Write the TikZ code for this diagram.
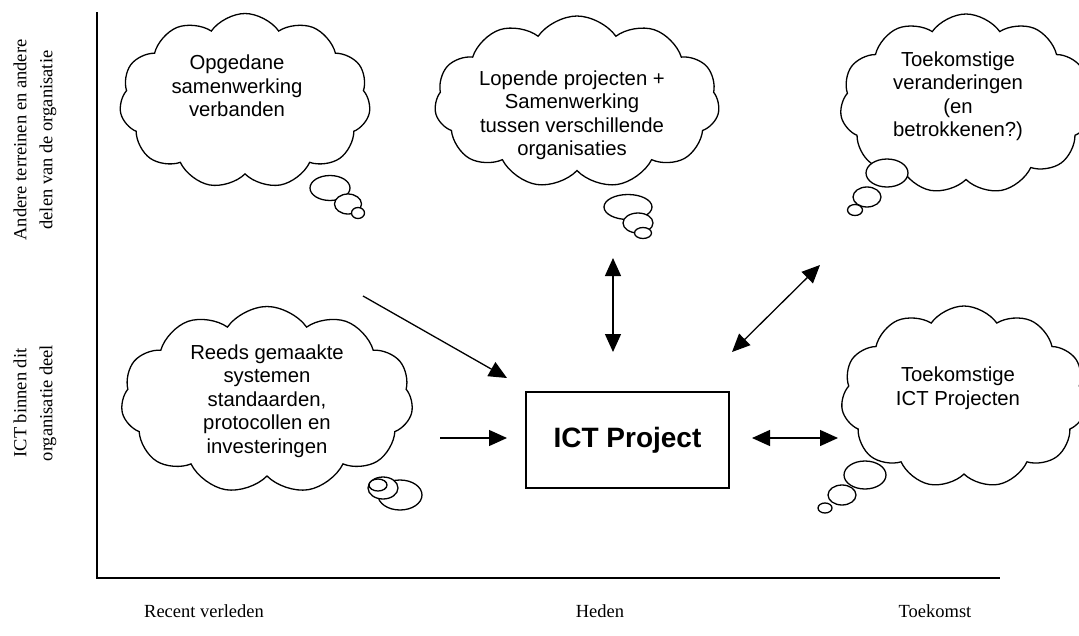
\documentclass[tikz,border=0pt]{standalone}
\usepackage{fontspec}
\setmainfont{Liberation Serif}
\setsansfont{Liberation Sans}
\usetikzlibrary{shapes.symbols,arrows.meta}
\tikzset{
  wolk/.style={cloud, draw, line width=1.3pt, cloud puffs=11, cloud puff arc=110, fill=white, inner sep=0pt},
  wolktekst/.style={font=\sffamily\fontsize{20.3}{23.5}\selectfont, align=center},
  bel/.style={draw, line width=1.3pt, fill=white},
  pijl/.style={line width=1.3pt, -{Triangle[length=18pt,width=16pt]}},
  dubbel/.style={line width=1.3pt, {Triangle[length=18pt,width=16pt]}-{Triangle[length=18pt,width=16pt]}},
  aslabel/.style={font=\fontsize{18.5}{26}\selectfont, align=center},
}
\begin{document}
\begin{tikzpicture}[x=1pt,y=-1pt]
    \useasboundingbox (0,0) rectangle (1079,635);
    \clip (0,0) rectangle (1079,635);
    \node[wolk, minimum width=251pt, minimum height=175pt, aspect=1.44] (w1) at (245,101) {};
    \node[wolk, minimum width=285pt, minimum height=172pt, aspect=1.66] (w2) at (577,102) {};
    \node[wolk, minimum width=252pt, minimum height=180pt, aspect=1.40] (w3) at (966,104) {};
    \node[wolk, minimum width=292pt, minimum height=187pt, aspect=1.57] (w4) at (267,400) {};
    \node[wolk, minimum width=246pt, minimum height=182pt, aspect=1.36] (w5) at (964,397) {};
    \node[wolktekst] (t1) at (237,86) {Opgedane\\samenwerking\\verbanden};
    \node[wolktekst] (t2) at (572,115) {Lopende projecten +\\Samenwerking\\tussen verschillende\\organisaties};
    \node[wolktekst] (t3) at (958,96) {Toekomstige\\veranderingen\\(en\\betrokkenen?)};
    \node[wolktekst] (t4) at (267,401) {Reeds gemaakte\\systemen\\standaarden,\\protocollen en\\investeringen};
    \node[wolktekst] (t5) at (958,388) {Toekomstige\\ICT Projecten};
    \draw[bel] (330,188) ellipse [x radius=20, y radius=12.5];
    \draw[bel] (348,204) ellipse [x radius=13.5, y radius=10];
    \draw[bel] (358,213) ellipse [x radius=6.5, y radius=5.5];
    \draw[bel] (628,207) ellipse [x radius=24, y radius=12.5];
    \draw[bel] (638,223) ellipse [x radius=15, y radius=10];
    \draw[bel] (643,233) ellipse [x radius=8.5, y radius=5.5];
    \draw[bel] (887,173) ellipse [x radius=21, y radius=14];
    \draw[bel] (867,197) ellipse [x radius=14, y radius=10];
    \draw[bel] (855,210) ellipse [x radius=7.5, y radius=5.5];
    \draw[bel] (400,495) ellipse [x radius=22, y radius=15];
    \draw[bel] (383,488) ellipse [x radius=15, y radius=11];
    \draw[bel] (378,485) ellipse [x radius=9, y radius=6];
    \draw[bel] (865,475) ellipse [x radius=21, y radius=14];
    \draw[bel] (842,495) ellipse [x radius=14, y radius=10];
    \draw[bel] (825,508) ellipse [x radius=7, y radius=5];
    \node[draw, line width=1.3pt, minimum width=203pt, minimum height=96pt, font=\sffamily\bfseries\fontsize{28}{32}\selectfont] (ict) at (627.5,440) {ICT Project};
    \coordinate (van1) at (363,296);
    \coordinate (naar1) at (507,378);
    \coordinate (van2) at (613,258);
    \coordinate (naar2) at (613,352);
    \coordinate (van3) at (820,265);
    \coordinate (naar3) at (732,352);
    \coordinate (van4) at (440,438);
    \coordinate (naar4) at (507,438);
    \coordinate (van5) at (752,438);
    \coordinate (naar5) at (838,438);
    \draw[pijl] (van1) -- (naar1);
    \draw[dubbel] (van2) -- (naar2);
    \draw[dubbel] (van3) -- (naar3);
    \draw[pijl] (van4) -- (naar4);
    \draw[dubbel] (van5) -- (naar5);
    \coordinate (top) at (97,12);
    \coordinate (oorsprong) at (97,578);
    \coordinate (eind) at (1000,578);
    \draw[line width=1.4pt] (top) -- (oorsprong) -- (eind);
    \node[aslabel, rotate=90] (boven) at (35,140) {Andere terreinen en andere\\delen van de organisatie};
    \node[aslabel, rotate=90] (onder) at (35,403) {ICT binnen dit\\organisatie deel};
    \node[aslabel] (verleden) at (204,611) {Recent verleden};
    \node[aslabel] (heden) at (600,611) {Heden};
    \node[aslabel] (toekomst) at (935,611) {Toekomst};
\end{tikzpicture}
\end{document}
